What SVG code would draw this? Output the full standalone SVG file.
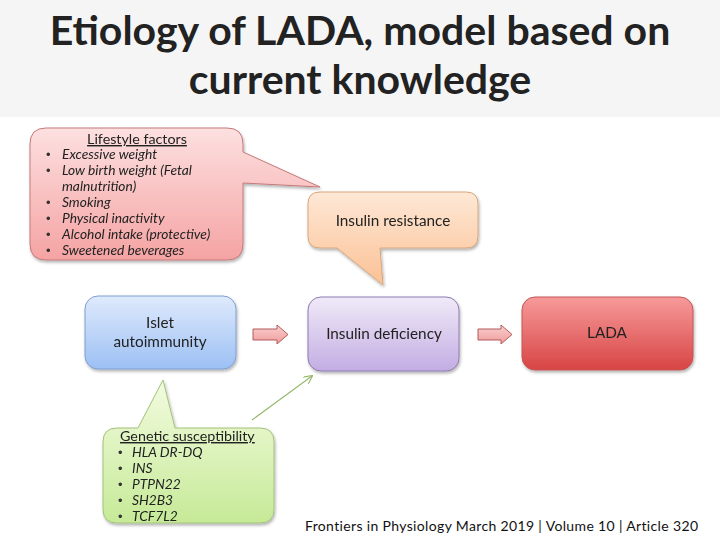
<svg xmlns="http://www.w3.org/2000/svg" width="720" height="540" viewBox="0 0 720 540">
<defs>
<style>
.title{font-family:Lato,"Open Sans","Liberation Sans",sans-serif;font-weight:bold;font-size:41px;fill:#222;text-anchor:middle}
.lbl{font-family:Lato,"Open Sans","Liberation Sans",sans-serif;font-size:15.3px;fill:#222;text-anchor:middle}
.item{font-family:Lato,"Open Sans","Liberation Sans",sans-serif;font-size:13.8px;font-style:italic;fill:#222}
.head{font-family:Lato,"Open Sans","Liberation Sans",sans-serif;font-size:14.3px;fill:#222;text-decoration:underline}
.bul{font-family:"Liberation Sans",sans-serif;font-size:13px;fill:#333}
.foot{font-family:Lato,"Open Sans","Liberation Sans",sans-serif;font-size:14px;letter-spacing:0.35px;fill:#111}
.node{filter:url(#sh)}
</style>
<filter id="sh" x="-10%" y="-10%" width="130%" height="130%">
<feDropShadow dx="1" dy="2" stdDeviation="1.8" flood-color="#000" flood-opacity="0.3"/>
</filter>
<linearGradient id="gPink" x1="0" y1="0" x2="0" y2="1"><stop offset="0" stop-color="#fde0e0"/><stop offset="1" stop-color="#f5a3a3"/></linearGradient>
<linearGradient id="gOrange" x1="0" y1="0" x2="0" y2="1"><stop offset="0" stop-color="#fee8d6"/><stop offset="1" stop-color="#fbc195"/></linearGradient>
<linearGradient id="gBlue" x1="0" y1="0" x2="0" y2="1"><stop offset="0" stop-color="#dfeafc"/><stop offset="1" stop-color="#9cc0f4"/></linearGradient>
<linearGradient id="gPurple" x1="0" y1="0" x2="0" y2="1"><stop offset="0" stop-color="#f0eaf8"/><stop offset="1" stop-color="#c3ade3"/></linearGradient>
<linearGradient id="gRed" x1="0" y1="0" x2="0" y2="1"><stop offset="0" stop-color="#f79a9a"/><stop offset="1" stop-color="#d84444"/></linearGradient>
<linearGradient id="gGreen" x1="0" y1="0" x2="0" y2="1"><stop offset="0" stop-color="#f3fbe0"/><stop offset="1" stop-color="#c6ea97"/></linearGradient>
<linearGradient id="gArrow" x1="0" y1="0" x2="0" y2="1"><stop offset="0" stop-color="#fbd0d0"/><stop offset="1" stop-color="#ee9b9b"/></linearGradient>
<marker id="mGreen" viewBox="0 0 10 10" refX="9" refY="5" markerWidth="9" markerHeight="9" orient="auto" markerUnits="userSpaceOnUse">
<path d="M0,0 L10,5 L0,10" fill="none" stroke="#93b86a" stroke-width="1.2"/>
</marker>
</defs>
<rect x="0" y="0" width="720" height="540" fill="#ffffff"/>
<rect x="0" y="0" width="720" height="117" fill="#f5f5f5"/>
<text class="title" x="360" y="45">Etiology of LADA, model based on</text>
<text class="title" x="360" y="94">current knowledge</text>

<g id="lifestyle" class="node">
<path d="M46,128 H227 Q243,128 243,144 V152 L320,187 L243,183 V244 Q243,260 227,260 H46 Q30,260 30,244 V144 Q30,128 46,128 Z" fill="url(#gPink)" stroke="#c47a7a" stroke-width="1"/>
<text class="head" x="137" y="144" text-anchor="middle">Lifestyle factors</text>
<text class="bul" x="46" y="159">•</text><text class="item" x="62" y="159">Excessive weight</text>
<text class="bul" x="46" y="175">•</text><text class="item" x="62" y="175">Low birth weight (Fetal</text>
<text class="item" x="62" y="191">malnutrition)</text>
<text class="bul" x="46" y="207">•</text><text class="item" x="62" y="207">Smoking</text>
<text class="bul" x="46" y="223">•</text><text class="item" x="62" y="223">Physical inactivity</text>
<text class="bul" x="46" y="239">•</text><text class="item" x="62" y="239">Alcohol intake (protective)</text>
<text class="bul" x="46" y="255">•</text><text class="item" x="62" y="255">Sweetened beverages</text>
</g>

<g id="insulin-resistance" class="node">
<path d="M320,192 H466 Q478,192 478,204 V236 Q478,248 466,248 H380 L383,285 L337,248 H320 Q308,248 308,236 V204 Q308,192 320,192 Z" fill="url(#gOrange)" stroke="#d8a77c" stroke-width="1"/>
<text class="lbl" x="393" y="226">Insulin resistance</text>
</g>

<g id="islet-autoimmunity" class="node">
<rect x="85" y="296" width="151" height="73" rx="13" fill="url(#gBlue)" stroke="#7e9ed3" stroke-width="1"/>
<text class="lbl" x="160" y="328">Islet</text>
<text class="lbl" x="160" y="347">autoimmunity</text>
</g>

<g id="insulin-deficiency" class="node">
<rect x="308" y="297" width="151" height="74" rx="13" fill="url(#gPurple)" stroke="#8f7bb2" stroke-width="1"/>
<text class="lbl" x="384" y="339">Insulin deficiency</text>
</g>

<g id="lada" class="node">
<rect x="522" y="297" width="171" height="73" rx="13" fill="url(#gRed)" stroke="#c25656" stroke-width="1"/>
<text class="lbl" x="607" y="338">LADA</text>
</g>

<g id="genetic" class="node">
<path d="M117,428 H138 L163,380 L175,428 H260 Q274,428 274,442 V509 Q274,523 260,523 H117 Q103,523 103,509 V442 Q103,428 117,428 Z" fill="url(#gGreen)" stroke="#a3c27a" stroke-width="1"/>
<text class="head" x="120" y="441">Genetic susceptibility</text>
<text class="bul" x="118" y="457">•</text><text class="item" x="132" y="457">HLA DR-DQ</text>
<text class="bul" x="118" y="473">•</text><text class="item" x="132" y="473">INS</text>
<text class="bul" x="118" y="489">•</text><text class="item" x="132" y="489">PTPN22</text>
<text class="bul" x="118" y="505">•</text><text class="item" x="132" y="505">SH2B3</text>
<text class="bul" x="118" y="521">•</text><text class="item" x="132" y="521">TCF7L2</text>
</g>

<g id="connectors">
<path d="M253,329 H277 V325 L288,334.5 L277,344 V340 H253 Z" fill="url(#gArrow)" stroke="#b25a5a" stroke-width="1"/>
<path d="M478,329 H501 V325 L512,334.5 L501,344 V340 H478 Z" fill="url(#gArrow)" stroke="#b25a5a" stroke-width="1"/>
<line x1="252" y1="420" x2="312" y2="376" stroke="#93b86a" stroke-width="1.1" marker-end="url(#mGreen)"/>
</g>

<text class="foot" x="305" y="531">Frontiers in Physiology March 2019 | Volume 10 | Article 320</text>
</svg>
